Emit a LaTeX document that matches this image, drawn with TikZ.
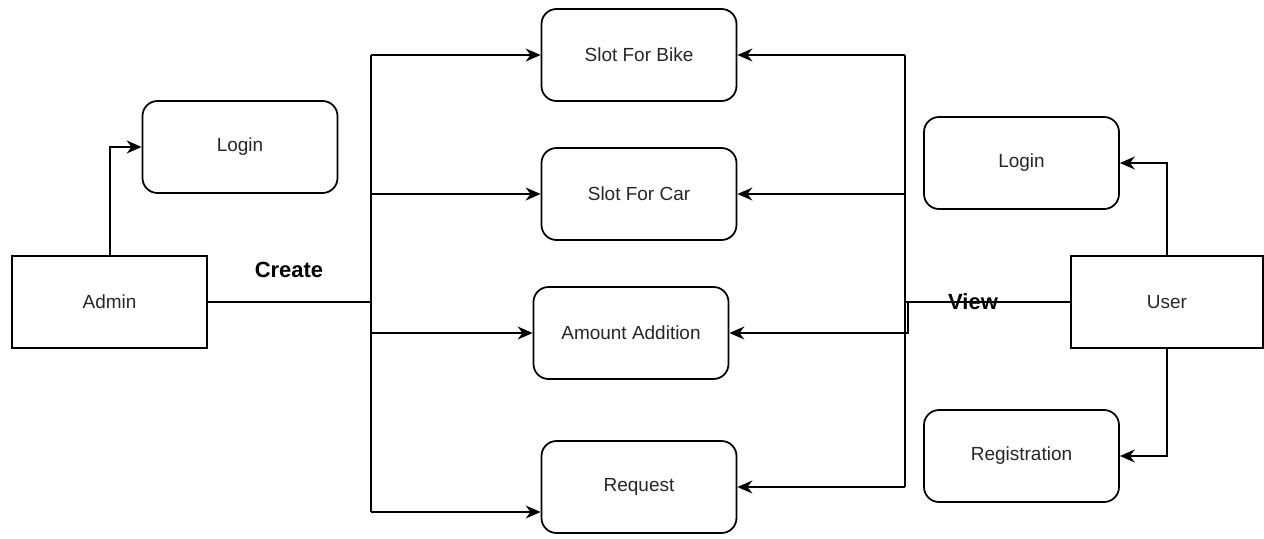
\documentclass[tikz,border=0pt]{standalone}
\usepackage{fontspec}
\setmainfont{Liberation Sans}
\usetikzlibrary{arrows.meta, calc}

\begin{document}
\begin{tikzpicture}[%
    line width=1pt,
    box/.style = {draw, minimum width=3.9cm, minimum height=1.84cm, inner sep=0pt,
        font=\fontsize{10.8}{13}\selectfont, text=black!85},
    rbox/.style = {box, rounded corners=0.3cm},
    every edge/.style = {draw, line width=1pt, -{Stealth[length=0.3cm, width=0.26cm]}},
    tag/.style = {font=\fontsize{12.5}{15}\selectfont\bfseries}
]
\useasboundingbox (0,0) rectangle (25.28,-10.76);

\node (admin) [box] at (2.19,-6.04) {Admin};
\node (loginA) [rbox] at (4.8,-2.94) {Login};
\node (bike) [rbox] at (12.78,-1.1) {Slot For Bike};
\node (car) [rbox] at (12.78,-3.88) {Slot For Car};
\node (amount) [rbox] at (12.62,-6.66) {Amount Addition};
\node (req) [rbox] at (12.78,-9.74) {Request};
\node (user) [box, minimum width=3.84cm] at (23.34,-6.04) {User};
\node (loginU) [rbox] at (20.43,-3.26) {Login};
\node (reg) [rbox] at (20.43,-9.12) {Registration};

\coordinate (ctop) at (7.42,-1.1);
\coordinate (cbot) at (7.42,-10.24);
\coordinate (vtop) at (18.1,-1.1);
\coordinate (vbot) at (18.1,-9.74);

% admin side
\draw (admin.east) -- (ctop |- admin.east);
\draw (ctop) -- (cbot);
\path
    ($(admin.north)+(0.01,0)$) edge [to path={|- (\tikztotarget)}] (loginA.west)
    (ctop) edge (bike.west)
    (ctop |- car) edge (car.west)
    (ctop |- amount) edge (amount.west)
    (cbot) edge (cbot -| req.west)
    ;
\node (create) [tag] at (5.78,-5.4) {Create};

% user side
\draw (user.west) -- (vtop |- user.west);
\draw (vtop) -- (vbot);
\path
    (user.north) edge [to path={|- (\tikztotarget)}] (loginU.east)
    (user.south) edge [to path={|- (\tikztotarget)}] (reg.east)
    (vtop) edge (bike.east)
    (vtop |- car) edge (car.east)
    ($(vtop |- user.west)+(0.06,0)$) edge [to path={|- (\tikztotarget)}] (amount.east)
    (vbot) edge (req.east)
    ;
\node (view) [tag] at (19.46,-6.04) {View};
\end{tikzpicture}
\end{document}
